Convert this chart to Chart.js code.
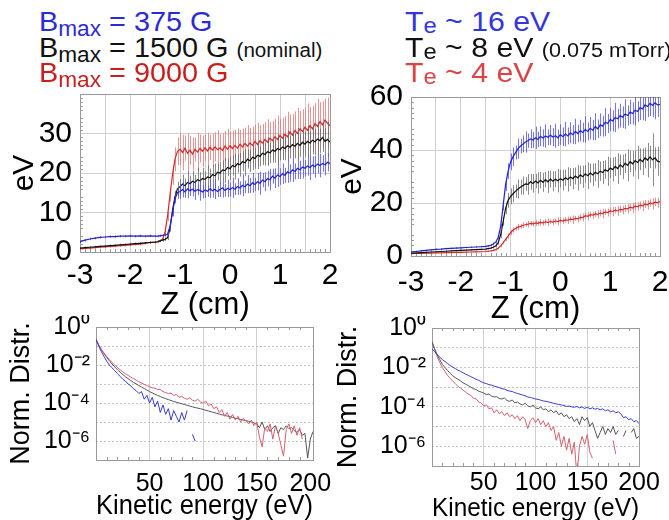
<!DOCTYPE html>
<html>
<head>
<meta charset="utf-8">
<script src="https://cdn.jsdelivr.net/npm/chart.js@4.4.1/dist/chart.umd.min.js"></script>
<style>
  html, body { margin: 0; padding: 0; background: #fff; overflow: hidden; }
  body { width: 669px; height: 520px; position: relative; font-family: 'Liberation Sans', Arial, sans-serif; }
  canvas { position: absolute; }
  .leg { position: absolute; font-size: 28px; line-height: 28px; white-space: nowrap; transform-origin: 0 0; }
  .leg.l { transform: scaleX(1.03); }
  .leg.r { transform: scaleX(1.08); }
  .leg sub { font-size: 22px; line-height: 0; vertical-align: -5px; }
  .leg .se { vertical-align: -2px; }
  .leg small { font-size: 20px; }
</style>
</head>
<body>
<canvas id="tl" width="340" height="244" style="left:0;top:80px"></canvas>
<canvas id="tr" width="334" height="246" style="left:335px;top:82px"></canvas>
<canvas id="bl" width="332" height="208" style="left:0;top:315px"></canvas>
<canvas id="br" width="337" height="208" style="left:332px;top:316px"></canvas>

<div class="leg l" style="left:39px;top:8px;color:#2b2bd6">B<sub>max</sub> = 375 G</div>
<div class="leg l" style="left:39px;top:34px;color:#111">B<sub>max</sub> = 1500 G <small>(nominal)</small></div>
<div class="leg l" style="left:39px;top:59px;color:#c81e1e">B<sub>max</sub> = 9000 G</div>
<div class="leg r" style="left:405px;top:8px;color:#3535dd">T<sub class="se">e</sub> ~ 16 eV</div>
<div class="leg r" style="left:405px;top:34px;color:#111">T<sub class="se">e</sub> ~ 8 eV <small>(0.075 mTorr)</small></div>
<div class="leg r" style="left:405px;top:59px;color:#d94444">T<sub class="se">e</sub> ~ 4 eV</div>

<script>
/* ================================
   DATA
================================ */
// axial position Z (cm), shared by both top panels
const zPos = [
  -3.0, -2.9, -2.8, -2.7, -2.6, -2.5, -2.4, -2.3, -2.2, -2.1, -2.0, -1.9, -1.8, -1.7, -1.6, -1.5,
  -1.45, -1.4, -1.35, -1.3, -1.25, -1.2, -1.15, -1.1, -1.05, -1.0,
  -0.95, -0.9, -0.85, -0.8, -0.75, -0.7, -0.65, -0.6, -0.55, -0.5,
  -0.45, -0.4, -0.35, -0.3, -0.25, -0.2, -0.15, -0.1, -0.05, 0.0,
  0.05, 0.1, 0.15, 0.2, 0.25, 0.3, 0.35, 0.4, 0.45, 0.5,
  0.55, 0.6, 0.65, 0.7, 0.75, 0.8, 0.85, 0.9, 0.95, 1.0,
  1.05, 1.1, 1.15, 1.2, 1.25, 1.3, 1.35, 1.4, 1.45, 1.5,
  1.55, 1.6, 1.65, 1.7, 1.75, 1.8, 1.85, 1.9, 1.95, 2.0
];

// top left: Bmax scan (eV)
const tlBlue = [
  2.6, 3.0, 3.3, 3.5, 3.7, 3.8, 3.9, 3.9, 4.0, 4.0, 4.1, 4.0, 4.1, 4.0, 4.1, 4.0,
  4.0, 4.1, 4.2, 4.3, 4.5, 6.5, 10.0, 13.5, 15.0, 15.3,
  15.8, 15.2, 16.0, 15.5, 15.9, 15.4, 15.8, 15.6, 15.2, 15.7,
  15.4, 16.0, 15.5, 15.9, 15.3, 15.8, 16.2, 15.6, 16.1, 15.8,
  16.3, 15.9, 16.6, 16.2, 16.9, 16.5, 17.2, 16.8, 17.5, 17.1,
  17.8, 17.4, 18.2, 17.8, 18.6, 18.3, 19.2, 18.7, 19.5, 19.1,
  19.8, 19.4, 20.3, 20.0, 20.8, 20.4, 21.2, 20.8, 21.5, 21.2,
  21.8, 21.4, 22.0, 21.6, 22.3, 21.9, 22.4, 22.1, 22.7, 22.4
];
const tlBlueErr = [
  0.3, 0.3, 0.3, 0.3, 0.3, 0.3, 0.3, 0.3, 0.3, 0.3, 0.3, 0.3, 0.3, 0.3, 0.3, 0.3,
  0.3, 0.3, 0.3, 0.4, 0.5, 0.8, 1.0, 1.2, 1.5, 1.8,
  2.0, 1.5, 2.4, 1.3, 1.8, 2.2, 1.4, 2.6, 1.6, 2.0,
  1.5, 2.3, 1.7, 2.5, 1.4, 1.9, 2.4, 1.6, 2.2, 1.8,
  2.6, 1.5, 2.1, 1.7, 2.8, 1.6, 2.3, 1.9, 2.5, 1.7,
  2.2, 2.9, 1.8, 2.4, 2.0, 2.7, 1.9, 2.5, 3.0, 2.1,
  2.6, 1.9, 2.8, 2.2, 3.1, 2.0, 2.7, 2.3, 2.9, 2.1,
  2.5, 3.2, 2.2, 2.8, 2.4, 3.0, 2.1, 2.7, 2.3, 2.6
];
const tlBlack = [
  1.0, 1.1, 1.2, 1.3, 1.4, 1.5, 1.6, 1.7, 1.8, 1.9, 2.0, 2.1, 2.2, 2.3, 2.4, 2.5,
  2.6, 2.8, 3.0, 3.2, 3.6, 6.0, 10.5, 14.0, 16.0, 16.5,
  17.2, 16.8, 17.6, 17.3, 17.9, 17.6, 18.3, 18.0, 18.6, 18.4,
  19.0, 18.8, 19.6, 19.3, 20.2, 20.0, 20.8, 20.6, 21.4, 21.1,
  21.9, 21.6, 22.4, 22.1, 22.9, 22.6, 23.5, 23.1, 24.0, 23.7,
  24.5, 24.2, 25.0, 24.7, 25.4, 25.1, 25.8, 25.5, 26.2, 25.9,
  26.6, 26.2, 26.9, 26.5, 27.2, 26.8, 27.5, 27.0, 27.8, 27.3,
  28.0, 27.6, 28.3, 27.9, 28.6, 28.2, 29.0, 28.0, 28.5, 27.8
];
const tlBlackErr = [
  0.3, 0.3, 0.3, 0.3, 0.3, 0.3, 0.3, 0.3, 0.3, 0.3, 0.3, 0.3, 0.3, 0.3, 0.3, 0.3,
  0.3, 0.3, 0.4, 0.5, 0.6, 0.9, 1.2, 1.5, 1.8, 2.0,
  2.4, 1.8, 2.8, 2.0, 2.6, 1.9, 3.0, 2.2, 2.7, 2.0,
  2.9, 2.3, 2.5, 3.1, 2.1, 2.8, 2.4, 3.2, 2.2, 2.9,
  2.6, 3.3, 2.3, 3.0, 2.5, 3.4, 2.4, 2.9, 3.2, 2.6,
  3.5, 2.5, 3.0, 2.8, 3.6, 2.6, 3.2, 2.9, 3.7, 2.7,
  3.3, 3.0, 3.8, 2.8, 3.4, 3.1, 3.9, 2.9, 3.5, 3.2,
  4.0, 3.0, 3.6, 3.3, 4.2, 3.1, 3.7, 3.4, 4.5, 3.2
];
const tlRed = [
  0.8, 0.9, 1.0, 1.1, 1.2, 1.3, 1.4, 1.5, 1.6, 1.7, 1.8, 1.9, 2.0, 2.2, 2.4, 2.5,
  2.6, 2.8, 3.2, 5.0, 9.0, 14.5, 19.5, 23.5, 25.5, 26.0,
  25.2, 26.3, 25.0, 25.8, 24.8, 26.0, 25.3, 26.2, 25.5, 26.4,
  25.6, 26.5, 25.8, 26.6, 25.9, 26.4, 25.7, 26.8, 26.0, 26.9,
  26.2, 27.0, 26.3, 27.3, 26.6, 27.5, 26.8, 27.6, 27.0, 28.0,
  27.2, 28.2, 27.6, 28.5, 27.8, 28.8, 28.2, 29.2, 28.5, 29.5,
  28.8, 29.8, 29.2, 30.4, 29.6, 30.8, 30.0, 31.2, 30.5, 31.6,
  30.8, 32.0, 31.2, 32.5, 31.8, 33.0, 32.2, 33.4, 32.6, 32.0
];
const tlRedErr = [
  0.3, 0.3, 0.3, 0.3, 0.3, 0.3, 0.3, 0.3, 0.3, 0.3, 0.3, 0.3, 0.3, 0.3, 0.3, 0.3,
  0.3, 0.3, 0.5, 0.8, 1.2, 1.8, 2.5, 3.0, 3.5, 4.0,
  4.5, 3.2, 5.0, 3.6, 4.2, 3.0, 4.8, 3.5, 4.0, 3.3,
  4.6, 3.2, 4.1, 3.7, 4.9, 3.4, 4.3, 3.8, 5.2, 3.5,
  4.4, 3.9, 5.0, 3.6, 4.6, 4.0, 5.3, 3.8, 4.7, 4.2,
  5.5, 3.9, 4.8, 4.3, 5.8, 4.1, 5.0, 4.5, 6.0, 4.2,
  5.2, 4.6, 6.3, 4.4, 5.4, 4.8, 6.5, 4.5, 5.6, 5.0,
  6.8, 4.7, 5.8, 5.2, 7.0, 4.9, 6.0, 5.4, 6.5, 5.0
];

// top right: Te scan (eV)
const trBlue = [
  1.5, 1.7, 1.9, 2.1, 2.3, 2.5, 2.6, 2.8, 2.9, 3.0, 3.1, 3.2, 3.3, 3.4, 3.5, 3.6,
  3.8, 4.0, 4.5, 5.2, 7.0, 11.0, 19.0, 27.0, 32.0, 35.5,
  37.5, 39.0, 40.5, 41.5, 42.3, 43.0, 43.5, 44.2, 43.8, 44.6,
  44.0, 45.2, 44.5, 45.3, 44.8, 45.6, 44.9, 45.4, 44.6, 45.8,
  45.0, 46.0, 45.3, 46.5, 45.8, 47.0, 46.2, 47.3, 46.6, 47.8,
  47.0, 48.2, 47.5, 48.8, 48.0, 49.5, 49.0, 50.5, 50.0, 51.5,
  51.0, 52.3, 51.8, 53.0, 52.4, 53.6, 53.0, 54.3, 53.8, 55.0,
  54.5, 56.0, 55.5, 57.0, 56.4, 57.6, 56.8, 57.8, 57.0, 57.2
];
const trBlueErr = [
  0.3, 0.3, 0.3, 0.3, 0.3, 0.3, 0.3, 0.3, 0.3, 0.3, 0.3, 0.3, 0.3, 0.3, 0.3, 0.3,
  0.3, 0.4, 0.5, 0.6, 0.8, 1.2, 1.8, 2.5, 3.0, 3.2,
  3.5, 2.6, 3.8, 2.8, 3.2, 4.0, 2.7, 3.6, 3.0, 4.2,
  2.9, 3.7, 3.3, 4.4, 3.0, 3.8, 3.4, 4.5, 3.1, 3.9,
  3.5, 4.6, 3.2, 4.0, 3.6, 4.8, 3.3, 4.1, 3.7, 5.0,
  3.4, 4.2, 3.8, 5.1, 3.5, 4.3, 3.9, 5.3, 3.6, 4.4,
  4.0, 5.5, 3.7, 4.5, 4.1, 5.6, 3.8, 4.6, 4.2, 5.8,
  3.9, 4.7, 4.3, 6.0, 4.0, 4.8, 4.4, 6.2, 4.5, 6.5
];
const trBlack = [
  1.1, 1.2, 1.3, 1.4, 1.5, 1.6, 1.7, 1.8, 1.9, 2.0, 2.1, 2.2, 2.3, 2.4, 2.5, 2.6,
  2.8, 3.0, 3.3, 3.8, 5.0, 8.0, 13.0, 18.0, 21.0, 22.5,
  23.5, 24.5, 25.3, 26.0, 26.6, 27.2, 27.0, 28.0, 27.4, 28.3,
  27.6, 28.6, 27.8, 28.8, 28.0, 29.0, 28.2, 29.0, 28.4, 29.2,
  28.6, 29.5, 28.9, 29.8, 29.2, 30.2, 29.5, 30.6, 29.9, 31.0,
  30.3, 31.3, 30.6, 31.6, 31.0, 32.0, 31.5, 32.6, 32.0, 33.2,
  32.6, 33.8, 33.0, 34.4, 33.6, 35.0, 34.2, 35.6, 34.8, 36.0,
  35.3, 36.5, 35.6, 37.0, 36.2, 37.4, 36.3, 37.0, 35.8, 35.5
];
const trBlackErr = [
  0.3, 0.3, 0.3, 0.3, 0.3, 0.3, 0.3, 0.3, 0.3, 0.3, 0.3, 0.3, 0.3, 0.3, 0.3, 0.3,
  0.3, 0.4, 0.5, 0.6, 0.8, 1.2, 1.6, 2.2, 2.8, 3.0,
  3.2, 2.5, 3.6, 2.8, 3.4, 2.6, 3.9, 3.0, 3.5, 2.7,
  4.0, 3.1, 3.6, 2.9, 4.2, 3.2, 3.8, 3.0, 4.4, 3.3,
  3.9, 3.1, 4.6, 3.4, 4.0, 3.2, 4.8, 3.5, 4.2, 3.3,
  5.0, 3.6, 4.3, 3.4, 5.2, 3.7, 4.4, 3.5, 5.5, 3.8,
  4.5, 3.6, 5.8, 3.9, 4.6, 3.7, 6.0, 4.0, 4.8, 3.8,
  6.2, 4.1, 5.0, 3.9, 6.5, 4.2, 10.0, 4.0, 5.5, 4.3
];
const trRed = [
  0.9, 0.95, 1.0, 1.05, 1.1, 1.15, 1.2, 1.25, 1.3, 1.35, 1.4, 1.45, 1.5, 1.55, 1.6, 1.7,
  1.8, 1.9, 2.1, 2.4, 2.9, 3.8, 5.0, 6.3, 7.5, 8.8,
  9.8, 10.4, 10.9, 11.2, 11.6, 11.8, 12.0, 12.3, 12.1, 12.5,
  12.3, 12.7, 12.5, 12.9, 12.7, 13.0, 12.8, 13.2, 13.0, 13.4,
  13.2, 13.6, 13.5, 13.9, 13.7, 14.2, 14.0, 14.6, 14.5, 15.2,
  15.0, 15.6, 15.4, 15.9, 15.7, 16.2, 16.0, 16.6, 16.4, 17.0,
  16.8, 17.3, 17.0, 17.6, 17.4, 18.0, 17.8, 18.4, 18.1, 18.8,
  18.6, 19.2, 18.9, 19.6, 19.3, 20.0, 19.7, 20.4, 20.1, 20.5
];
const trRedErr = [
  0.2, 0.2, 0.2, 0.2, 0.2, 0.2, 0.2, 0.2, 0.2, 0.2, 0.2, 0.2, 0.2, 0.2, 0.2, 0.2,
  0.2, 0.2, 0.3, 0.3, 0.4, 0.5, 0.6, 0.8, 1.0, 1.0,
  1.0, 0.8, 1.2, 0.9, 1.1, 0.8, 1.3, 0.9, 1.0, 1.2,
  0.9, 1.3, 1.0, 1.1, 1.4, 0.9, 1.2, 1.0, 1.5, 1.1,
  1.2, 1.0, 1.4, 1.1, 1.6, 1.0, 1.3, 1.2, 1.5, 1.1,
  1.7, 1.2, 1.4, 1.1, 1.6, 1.3, 1.8, 1.2, 1.5, 1.3,
  1.7, 1.2, 1.9, 1.4, 1.6, 1.3, 1.8, 1.4, 2.0, 1.5,
  1.7, 1.4, 2.0, 1.5, 1.8, 1.4, 2.1, 1.6, 1.9, 1.5
];

// kinetic energy (eV), shared by both bottom panels
const energy = [
  0, 2.5, 5, 7.5, 10, 12.5, 15, 17.5, 20, 22.5,
  25, 27.5, 30, 32.5, 35, 37.5, 40, 42.5, 45, 47.5,
  50, 52.5, 55, 57.5, 60, 62.5, 65, 67.5, 70, 72.5,
  75, 77.5, 80, 82.5, 85, 87.5, 90, 92.5, 95, 97.5,
  100, 102.5, 105, 107.5, 110, 112.5, 115, 117.5, 120, 122.5,
  125, 127.5, 130, 132.5, 135, 137.5, 140, 142.5, 145, 147.5,
  150, 152.5, 155, 157.5, 160, 162.5, 165, 167.5, 170, 172.5,
  175, 177.5, 180, 182.5, 185, 187.5, 190, 192.5, 195, 197.5,
  200, 202.5
];

// bottom panels: log10 of normalised distribution (null = no data)
const blBlue = [
  -0.65, -1.0, -1.3, -1.55, -1.8, -2.0, -2.15, -2.3, -2.45, -2.6,
  -2.75, -2.85, -3.0, -3.1, -3.25, -3.35, -3.5, -3.4, -3.8, -3.6,
  -4.0, -3.7, -4.2, -3.9, -4.5, -4.1, -4.6, -4.3, -4.9, -4.4,
  -4.7, -5.0, -4.5, -4.9, -4.4, null, -5.65, -6.0
];
const blBlack = [
  -0.65, -0.95, -1.2, -1.4, -1.6, -1.78, -1.95, -2.1, -2.25, -2.38,
  -2.5, -2.62, -2.72, -2.82, -2.92, -3.0, -3.08, -3.16, -3.24, -3.32,
  -3.4, -3.47, -3.54, -3.6, -3.66, -3.72, -3.77, -3.82, -3.87, -3.92,
  -3.96, -4.0, -4.04, -4.08, -4.12, -4.16, -4.2, -4.24, -4.27, -4.3,
  -4.34, -4.38, -4.42, -4.46, -4.5, -4.54, -4.58, -4.62, -4.65, -4.69,
  -4.72, -4.76, -4.8, -4.83, -4.87, -4.9, -4.93, -4.96, -5.0, -5.05,
  -5.1, -5.3, -5.0, -5.4, -5.2, -5.5, -5.3, -5.2, -5.6, -5.3,
  -5.4, -5.2, -5.35, -5.3, -5.45, -5.55, -5.4, -5.7, -5.6, -6.9,
  -5.9, -5.5
];
const blRed = [
  -0.65, -0.95, -1.18, -1.37, -1.55, -1.72, -1.87, -2.0, -2.13, -2.25,
  -2.36, -2.46, -2.55, -2.64, -2.72, -2.8, -2.88, -2.95, -3.02, -3.08,
  -3.15, -3.2, -3.22, -3.3, -3.28, -3.4, -3.45, -3.5, -3.48, -3.6,
  -3.55, -3.7, -3.65, -3.75, -3.8, -3.72, -3.85, -3.9, -3.8, -3.95,
  -4.0, -3.9, -4.15, -4.05, -4.3, -4.2, -4.5, -4.35, -4.7, -4.5,
  -4.85, -4.6, -4.9, -4.7, -5.0, -4.8, -4.95, -5.1, -4.9, -5.2,
  -5.0, -5.8, -6.3, -5.3, -5.5, -5.1, -5.9, -5.2, -5.6, -6.2,
  -6.8, -5.4, -5.1, -5.6, -5.2, -5.7, -5.3, -5.9
];
const brBlue = [
  -1.05, -1.2, -1.35, -1.48, -1.6, -1.7, -1.8, -1.9, -1.98, -2.06,
  -2.14, -2.2, -2.27, -2.34, -2.4, -2.47, -2.53, -2.6, -2.65, -2.72,
  -2.78, -2.82, -2.87, -2.9, -2.95, -2.98, -3.03, -3.08, -3.1, -3.16,
  -3.2, -3.22, -3.28, -3.32, -3.36, -3.4, -3.44, -3.5, -3.52, -3.56,
  -3.6, -3.62, -3.66, -3.7, -3.72, -3.75, -3.78, -3.82, -3.85, -3.88,
  -3.9, -3.93, -3.98, -3.96, -4.0, -4.02, -3.98, -4.05, -4.0, -4.08,
  -4.02, -4.1, -4.05, -4.12, -4.08, -4.15, -4.1, -4.2, -4.15, -4.25,
  -4.2, -4.3, -4.25, -4.35, -4.55, -4.5, -4.65, -4.6, -4.75, -4.7,
  -4.85
];
const brBlack = [
  -0.7, -1.05, -1.35, -1.6, -1.85, -2.0, -2.15, -2.3, -2.42, -2.52,
  -2.6, -2.68, -2.78, -2.85, -2.92, -3.0, -3.08, -3.12, -3.2, -3.25,
  -3.3, -3.38, -3.35, -3.45, -3.5, -3.48, -3.58, -3.6, -3.55, -3.68,
  -3.72, -3.65, -3.8, -3.75, -3.85, -3.9, -3.82, -3.95, -4.0, -3.92,
  -4.05, -4.1, -4.0, -4.15, -4.1, -4.25, -4.15, -4.3, -4.2, -4.4,
  -4.3, -4.5, -4.4, -4.6, -4.5, -4.75, -4.6, -4.9, -4.5, -4.7,
  -4.55, -5.0, -4.8, -5.2, -5.6, -5.3, -5.0, -5.4, -5.1, -5.3,
  -5.0, -5.4, -5.2, null, -5.5, -5.2, null, -5.3, -5.1, -5.6,
  -5.5
];
const brRed = [
  -0.7, -1.1, -1.45, -1.75, -2.0, -2.2, -2.4, -2.55, -2.7, -2.82,
  -2.95, -3.05, -3.15, -3.25, -3.35, -3.42, -3.55, -3.6, -3.75, -3.8,
  -3.95, -3.9, -4.1, -4.05, -4.3, -4.15, -4.35, -4.25, -4.45, -4.3,
  -4.5, -4.4, -4.6, -4.45, -4.7, -4.5, -4.65, -5.1, -4.7, -4.55,
  -4.8, -4.6, -4.9, -4.7, -5.0, -4.8, -5.2, -5.0, -5.7, -5.3,
  -6.0, -5.5, -6.2, -5.6, -6.4, -5.8, -7.5, -6.0, -5.5, -5.9,
  -5.4, -6.3, -6.6, null, null, null, null, null, null, null,
  -5.7, -6.4
];

// tick labels
const zTickLabels = [-3, -2, -1, 0, 1, 2];
const tlYTickLabels = [0, 10, 20, 30];
const trYTickLabels = [0, 20, 40, 60];
const eTickLabels = [50, 100, 150, 200];
const logDecades = [1e-7, 1e-6, 1e-5, 1e-4, 1e-3, 1e-2, 1e-1, 1];
const logTickLabels = { '0': '10⁰', '-2': '10⁻²', '-4': '10⁻⁴', '-6': '10⁻⁶' };

/* ================================
   HELPERS & PLUGINS
================================ */
Chart.defaults.font.family = "'Liberation Sans', Arial, sans-serif";
Chart.defaults.color = '#000';

const zPoints = ys => ys.map((y, i) => ({ x: zPos[i], y }));
const ePoints = ls => ls.map((l, i) => ({ x: energy[i], y: l === null ? null : Math.pow(10, l) }));

// force the axis box size so the plot areas land where the figure has them
function fixSize(prop, size) {
    return s => {
        s[prop] = size;
        s.paddingLeft = s.paddingRight = s.paddingTop = s.paddingBottom = 0;
    };
}

const sameNum = (a, b) => Math.abs(a - b) < 1e-6;

// grey box round the plot, plus small inward minor ticks on the bottom and left edges
const frame = {
    id: 'frame',
    beforeDatasetsDraw(chart, args, opts) {
        const { ctx, chartArea: a, scales: { x, y } } = chart;
        ctx.save();
        ctx.strokeStyle = '#9a9a9a';
        ctx.lineWidth = 1;
        ctx.strokeRect(Math.round(a.left) + 0.5, Math.round(a.top) + 0.5, Math.round(a.width), Math.round(a.height));
        ctx.beginPath();
        (opts.xMinor || []).forEach(v => {
            const px = Math.round(x.getPixelForValue(v)) + 0.5;
            ctx.moveTo(px, a.bottom);
            ctx.lineTo(px, a.bottom - 3);
            if (opts.topTicks) { ctx.moveTo(px, a.top); ctx.lineTo(px, a.top + 3); }
        });
        (opts.yMinor || []).forEach(v => {
            const py = Math.round(y.getPixelForValue(v)) + 0.5;
            ctx.moveTo(a.left, py);
            ctx.lineTo(a.left + 3, py);
        });
        ctx.stroke();
        ctx.restore();
    }
};

// vertical error bars, drawn just under their own line
const errorBars = {
    id: 'errorBars',
    beforeDatasetDraw(chart, args) {
        const ds = chart.data.datasets[args.index];
        if (!ds.err) return;
        const { ctx, chartArea: a, scales: { x, y } } = chart;
        ctx.save();
        ctx.beginPath();
        ctx.rect(a.left, a.top, a.width, a.height);
        ctx.clip();
        ctx.strokeStyle = ds.errColor;
        ctx.lineWidth = 1;
        ctx.beginPath();
        ds.data.forEach((p, i) => {
            const px = Math.round(x.getPixelForValue(p.x)) + 0.5;
            ctx.moveTo(px, y.getPixelForValue(p.y - ds.err[i]));
            ctx.lineTo(px, y.getPixelForValue(p.y + ds.err[i]));
        });
        ctx.stroke();
        ctx.restore();
    }
};

// minor tick positions (axis decoration only)
const zMinor = [-2.9, -2.8, -2.7, -2.6, -2.4, -2.3, -2.2, -2.1, -1.9, -1.8, -1.7, -1.6, -1.4, -1.3, -1.2, -1.1,
    -0.9, -0.8, -0.7, -0.6, -0.4, -0.3, -0.2, -0.1, 0.1, 0.2, 0.3, 0.4, 0.6, 0.7, 0.8, 0.9,
    1.1, 1.2, 1.3, 1.4, 1.6, 1.7, 1.8, 1.9];
const tlYMinor = [1, 2, 3, 4, 6, 7, 8, 9, 11, 12, 13, 14, 16, 17, 18, 19, 21, 22, 23, 24, 26, 27, 28, 29, 31, 32, 33, 34, 36, 37, 38, 39];
const trYMinor = [2, 4, 6, 8, 12, 14, 16, 18, 22, 24, 26, 28, 32, 34, 36, 38, 42, 44, 46, 48, 52, 54, 56, 58];
const eMinor = [10, 20, 30, 40, 60, 70, 80, 90, 110, 120, 130, 140, 160, 170, 180, 190];

function baseOptions(padTop, padRight, frameOpts) {
    return {
        responsive: false,
        animation: false,
        layout: { padding: { left: 0, top: padTop, right: padRight, bottom: 0 } },
        plugins: { legend: { display: false }, tooltip: { enabled: false }, frame: frameOpts },
        elements: { point: { radius: 0 }, line: { borderWidth: 1.2, tension: 0 } }
    };
}

/* ================================
   TOP PANELS (linear)
================================ */
function zAxis(tickPad, height) {
    return {
        type: 'linear', min: -3, max: 2,
        ticks: {
            stepSize: 0.5, autoSkip: false, maxRotation: 0, padding: tickPad,
            font: { size: 30 },
            callback: v => zTickLabels.some(t => sameNum(t, v)) ? String(Math.round(v)) : ''
        },
        grid: { color: '#cfcfcf', drawTicks: false },
        border: { display: false },
        title: { display: true, text: 'Z (cm)', font: { size: 31 }, padding: 0 },
        afterFit: fixSize('height', height)
    };
}

function eVAxis(max, step, labels, width, titlePad) {
    return {
        type: 'linear', min: 0, max: max,
        ticks: {
            stepSize: step, padding: 8, font: { size: 30 },
            callback: v => labels.some(t => sameNum(t, v)) ? String(v) : ''
        },
        grid: { color: '#cfcfcf', drawTicks: false },
        border: { display: false },
        title: { display: true, text: 'eV', font: { size: 30 }, padding: { top: titlePad, bottom: 0 } },
        afterFit: fixSize('width', width)
    };
}

new Chart(document.getElementById('tl'), {
    type: 'line',
    data: {
        datasets: [
            { data: zPoints(tlBlue), err: tlBlueErr, borderColor: '#2323c8', errColor: 'rgba(80,80,255,0.8)' },
            { data: zPoints(tlBlack), err: tlBlackErr, borderColor: '#111111', errColor: 'rgba(100,100,100,0.75)' },
            { data: zPoints(tlRed), err: tlRedErr, borderColor: '#d42828', errColor: 'rgba(226,120,120,0.8)' }
        ]
    },
    options: Object.assign(baseOptions(14, 10, { xMinor: zMinor, yMinor: tlYMinor }), {
        scales: { x: zAxis(6, 72), y: eVAxis(40, 5, tlYTickLabels, 80, 7) }
    }),
    plugins: [frame, errorBars]
});

new Chart(document.getElementById('tr'), {
    type: 'line',
    data: {
        datasets: [
            { data: zPoints(trBlue), err: trBlueErr, borderColor: '#2323c8', errColor: 'rgba(80,80,255,0.8)' },
            { data: zPoints(trBlack), err: trBlackErr, borderColor: '#111111', errColor: 'rgba(100,100,100,0.75)' },
            { data: zPoints(trRed), err: trRedErr, borderColor: '#d42828', errColor: 'rgba(226,120,120,0.8)' }
        ]
    },
    options: Object.assign(baseOptions(15, 9, { xMinor: zMinor, yMinor: trYMinor }), {
        scales: { x: zAxis(9, 72), y: eVAxis(60, 10, trYTickLabels, 76, 0) }
    }),
    plugins: [frame, errorBars]
});

/* ================================
   BOTTOM PANELS (log)
================================ */
function energyAxis(max, height, tickPad, titleSize, titlePad) {
    return {
        type: 'linear', min: 0, max: max,
        afterBuildTicks: s => { s.ticks = [0, 50, 100, 150, 200].map(v => ({ value: v })); },
        ticks: {
            autoSkip: false, maxRotation: 0, padding: tickPad, font: { size: 25 },
            callback: v => eTickLabels.includes(v) ? String(v) : ''
        },
        grid: { color: ctx => (ctx.tick && (ctx.tick.value === 0 || ctx.tick.value === 200)) ? 'rgba(0,0,0,0)' : '#d0d0d0', drawTicks: false },
        border: { display: false },
        title: { display: true, text: 'Kinetic energy (eV)', font: { size: titleSize }, padding: { top: 0, bottom: titlePad } },
        afterFit: fixSize('height', height)
    };
}

function distAxis(width, titlePad) {
    return {
        type: 'logarithmic', min: 1e-7, max: 1,
        afterBuildTicks: s => { s.ticks = logDecades.map(v => ({ value: v })); },
        ticks: {
            autoSkip: false, padding: 6, font: { size: 25 },
            callback: v => logTickLabels[String(Math.round(Math.log10(v)))] || ''
        },
        grid: { color: '#c4c4c4', drawTicks: false },
        border: { display: false, dash: [2, 2] },
        title: { display: true, text: 'Norm. Distr.', font: { size: 27 }, padding: { top: titlePad, bottom: 0 } },
        afterFit: fixSize('width', width)
    };
}

new Chart(document.getElementById('bl'), {
    type: 'line',
    data: {
        datasets: [
            { data: ePoints(blBlue), borderColor: '#3a3ad0', borderWidth: 1 },
            { data: ePoints(blRed), borderColor: '#d2606e', borderWidth: 1 },
            { data: ePoints(blBlack), borderColor: '#555555', borderWidth: 1 }
        ]
    },
    options: Object.assign(baseOptions(12, 19, { xMinor: eMinor, topTicks: true }), {
        scales: { x: energyAxis(202.5, 63, 9, 28, 0), y: distAxis(96, 5) }
    }),
    plugins: [frame]
});

new Chart(document.getElementById('br'), {
    type: 'line',
    data: {
        datasets: [
            { data: ePoints(brBlue), borderColor: '#3a3ad0', borderWidth: 1 },
            { data: ePoints(brBlack), borderColor: '#555555', borderWidth: 1 },
            { data: ePoints(brRed), borderColor: '#d2606e', borderWidth: 1 }
        ]
    },
    options: Object.assign(baseOptions(12, 30, { xMinor: eMinor, topTicks: true }), {
        scales: { x: energyAxis(200, 58, 2, 26, 0), y: distAxis(100, 0) }
    }),
    plugins: [frame]
});
</script>
</body>
</html>
